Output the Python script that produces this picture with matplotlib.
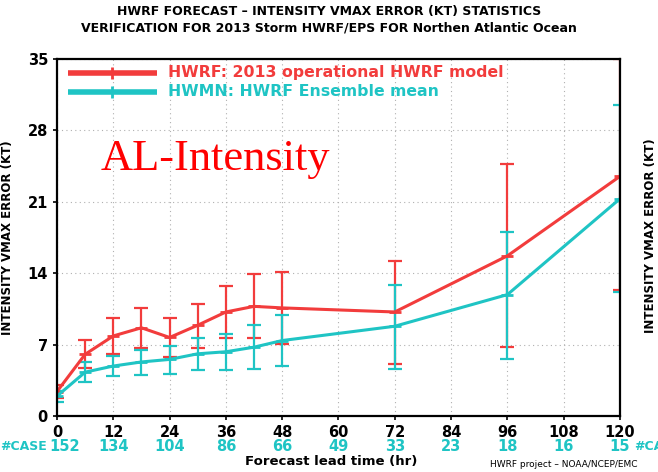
import matplotlib.pyplot as plt
import numpy as np

# forecast lead times (hr)
lead = [0, 6, 12, 18, 24, 30, 36, 42, 48, 72, 96, 120]

# HWRF operational: mean error and error bar ends (kt)
hwrf_mean = [2.4, 6.05, 7.85, 8.65, 7.7, 8.9, 10.2, 10.75, 10.6, 10.2, 15.7, 23.5]
hwrf_top = [3.0, 7.5, 9.6, 10.6, 9.6, 11.0, 12.7, 13.9, 14.1, 15.2, 24.7, 35.0]
hwrf_bot = [1.8, 4.7, 6.1, 6.7, 5.8, 6.7, 7.6, 7.6, 7.1, 5.1, 6.8, 12.4]

# HWMN ensemble mean
hwmn_mean = [1.95, 4.3, 4.9, 5.3, 5.55, 6.1, 6.3, 6.75, 7.4, 8.8, 11.9, 21.3]
hwmn_top = [2.5, 5.3, 5.85, 6.45, 6.9, 7.65, 8.0, 8.9, 9.95, 12.85, 18.0, 30.5]
hwmn_bot = [1.4, 3.35, 3.9, 4.05, 4.15, 4.5, 4.55, 4.6, 4.9, 4.65, 5.55, 12.2]

xticks = list(range(0, 121, 12))
yticks = [0, 7, 14, 21, 28, 35]
ncase = [152, 134, 104, 86, 66, 49, 33, 23, 18, 16, 15]

red = '#f23c3c'
cyan = '#1fc4c4'


def bars(ax, x, mean, top, bot, color):
    mean = np.array(mean)
    err = [mean - np.array(bot), np.array(top) - mean]
    ax.errorbar(x, mean, yerr=err, fmt='none', ecolor=color, elinewidth=1.6,
                capsize=5, capthick=1.6, zorder=3)
    ax.plot(x, mean, color=color, lw=2.2, marker='_', ms=9, mew=2, zorder=4)


fig = plt.figure(figsize=(6.58, 4.72), dpi=100)
ax = fig.add_axes([0.0866, 0.1186, 0.8556, 0.7564])

bars(ax, lead, hwrf_mean, hwrf_top, hwrf_bot, red)
bars(ax, lead, hwmn_mean, hwmn_top, hwmn_bot, cyan)

ax.set_xlim(0, 120)
ax.set_ylim(0, 35)
ax.set_xticks(xticks)
ax.set_yticks(yticks)
ax.grid(True, ls=(0, (1, 3)), color='#b0b0b0', lw=0.8)
for s in ax.spines.values():
    s.set_linewidth(1.6)
    s.set_zorder(5)
ax.tick_params(direction='out', length=3, width=1.2, labelsize=10.5)
for lab in ax.get_xticklabels() + ax.get_yticklabels():
    lab.set_fontweight('bold')

# legend drawn by hand in axes coordinates
leg = [(red, 'HWRF: 2013 operational HWRF model', 0.962),
       (cyan, 'HWMN: HWRF Ensemble mean', 0.908)]
for col, txt, yy in leg:
    ax.plot([0.02, 0.178], [yy, yy], transform=ax.transAxes, color=col, lw=4,
            solid_capstyle='butt', clip_on=False, zorder=6)
    ax.plot([0.098], [yy], transform=ax.transAxes, color=col, marker='|',
            ms=9, mew=2, zorder=6)
    ax.text(0.197, yy, txt, transform=ax.transAxes, color=col, fontsize=11.3,
            fontweight='bold', va='center', ha='left')

ax.text(0.077, 0.72, 'AL-Intensity', transform=ax.transAxes, color='red',
        family='Liberation Serif', fontsize=32, va='center', ha='left')

ax.set_ylabel('INTENSITY VMAX ERROR (KT)', fontsize=8.5, fontweight='bold',
              labelpad=10)
fig.text(0.988, 0.5, 'INTENSITY VMAX ERROR (KT)', rotation=90, fontsize=8.5,
         fontweight='bold', ha='center', va='center')

# number of cases under each tick
for x, n in zip(xticks, ncase):
    dx = 1.6 if x == 0 else 0
    ax.text(x + dx, -0.085, str(n), transform=ax.get_xaxis_transform(),
            color=cyan, fontsize=10.5, fontweight='bold', ha='center',
            va='center', clip_on=False)
fig.text(0.0, 0.055, '#CASE', color=cyan, fontsize=9, fontweight='bold',
         va='center', ha='left')
fig.text(0.963, 0.055, '#CASE', color=cyan, fontsize=9, fontweight='bold',
         va='center', ha='left')

fig.text(0.503, 0.023, 'Forecast lead time (hr)', fontsize=9.5, fontweight='bold',
         ha='center', va='center')
fig.text(0.745, 0.016, 'HWRF project \u2013 NOAA/NCEP/EMC', fontsize=6.5,
         ha='left', va='center')

fig.text(0.5, 0.975, 'HWRF FORECAST \u2013 INTENSITY VMAX ERROR (KT) STATISTICS',
         fontsize=9, fontweight='bold', ha='center', va='center')
fig.text(0.5, 0.94, 'VERIFICATION FOR 2013 Storm HWRF/EPS FOR Northen Atlantic Ocean',
         fontsize=9, fontweight='bold', ha='center', va='center')

fig.savefig('out.png', dpi=100)
